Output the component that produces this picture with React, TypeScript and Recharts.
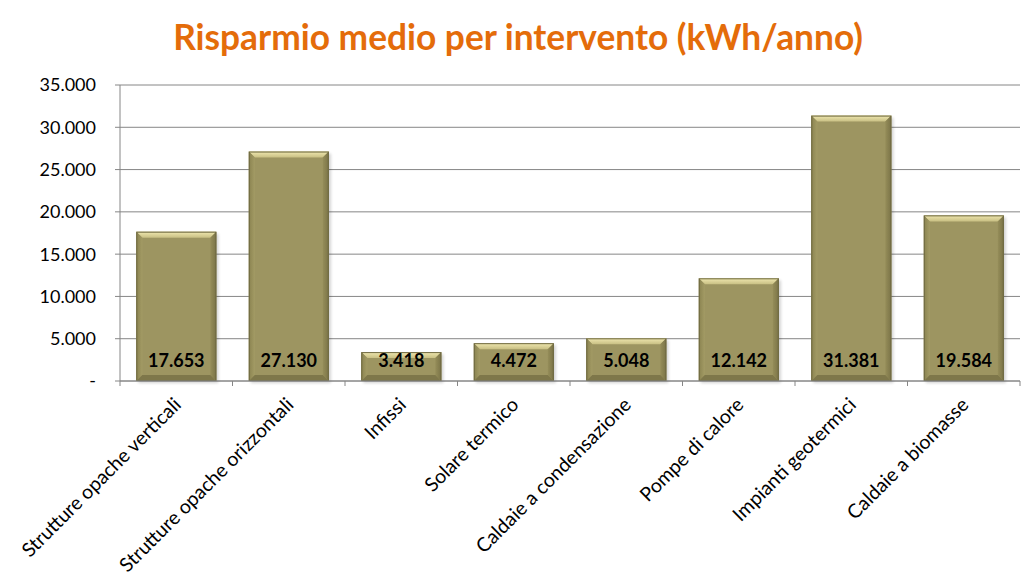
import React from "react";
import { BarChart, Bar, XAxis, YAxis, CartesianGrid, LabelList } from "recharts";

const categories = [
  "Strutture opache verticali",
  "Strutture opache orizzontali",
  "Infissi",
  "Solare termico",
  "Caldaie a condensazione",
  "Pompe di calore",
  "Impianti geotermici",
  "Caldaie a biomasse",
];
const values = [17653, 27130, 3418, 4472, 5048, 12142, 31381, 19584];
const yTicks = [0, 5000, 10000, 15000, 20000, 25000, 30000, 35000];
const title = "Risparmio medio per intervento (kWh/anno)";

const data = categories.map((name, i) => ({ name, value: values[i] }));

const W = 1036;
const H = 585;
const X_H = 204;
const M = { top: 85, right: 16, bottom: 0, left: 0 };
const Y_W = 120;
const band = (W - M.left - M.right - Y_W) / categories.length;

const fmt = (v: number) =>
  v === 0 ? "-" : v.toLocaleString("it-IT").replace(/,/g, ".");

const FONT = "Lato, 'Open Sans', sans-serif";

const BevelBar = (props: any) => {
  const { x, y, width: w, height: h } = props;
  if (!h || h <= 0) return null;
  const b = Math.min(6, h / 2);
  return (
    <g>
      <rect x={x + 2} y={y + 2} width={w} height={h} fill="#000" opacity={0.18} filter="url(#blur)" />
      <rect x={x} y={y} width={w} height={h} fill="#9D9561" />
      <polygon points={`${x},${y} ${x + w},${y} ${x + w - b},${y + b} ${x + b},${y + b}`} fill="url(#topG)" />
      <polygon points={`${x},${y} ${x + b},${y + b} ${x + b},${y + h - b} ${x},${y + h}`} fill="url(#leftG)" />
      <polygon points={`${x + w},${y} ${x + w - b},${y + b} ${x + w - b},${y + h - b} ${x + w},${y + h}`} fill="url(#rightG)" />
      <polygon points={`${x},${y + h} ${x + b},${y + h - b} ${x + w - b},${y + h - b} ${x + w},${y + h}`} fill="#7E774A" />
      <rect x={x + 0.5} y={y + 0.5} width={w - 1} height={h - 1} fill="none" stroke="#6F6A42" strokeWidth={1} />
    </g>
  );
};

const XTick = (props: any) => {
  const { x, y, payload, index } = props;
  const left = x - band / 2;
  return (
    <g>
      <line x1={left} y1={y - 8} x2={left} y2={y - 3} stroke="#868686" />
      {index === categories.length - 1 && (
        <line x1={x + band / 2} y1={y - 8} x2={x + band / 2} y2={y - 3} stroke="#868686" />
      )}
      <text
        x={x + 6}
        y={y + 17}
        transform={`rotate(-45, ${x + 6}, ${y + 17})`}
        textAnchor="end"
        fontSize={19.5}
        fontFamily={FONT}
        fill="#000"
      >
        {payload.value}
      </text>
    </g>
  );
};

const ValueLabel = (props: any) => {
  const { x, y, width, height, value } = props;
  return (
    <text
      x={x + width / 2}
      y={y + height - 14}
      textAnchor="middle"
      fontSize={18}
      fontWeight={700}
      fontFamily={FONT}
      fill="#000"
    >
      {fmt(value)}
    </text>
  );
};

export default function App() {
  return (
    <div style={{ position: "absolute", left: 0, top: 0, width: W, height: H, background: "#fff" }}>
      <div
        style={{
          position: "absolute",
          left: 0,
          top: 15,
          width: W,
          textAlign: "center",
          fontFamily: FONT,
          fontWeight: 700,
          fontSize: 35.3,
          color: "#E46C0A",
          lineHeight: "44px",
        }}
      >
        {title}
      </div>
      <BarChart width={W} height={H} data={data} margin={M} barCategoryGap="14.5%">
        <defs>
          <linearGradient id="topG" x1="0" y1="0" x2="0" y2="1">
            <stop offset="0" stopColor="#F0E8B0" />
            <stop offset="1" stopColor="#C8BF83" />
          </linearGradient>
          <linearGradient id="leftG" x1="0" y1="0" x2="1" y2="0">
            <stop offset="0" stopColor="#8A8350" />
            <stop offset="1" stopColor="#A39B65" />
          </linearGradient>
          <linearGradient id="rightG" x1="0" y1="0" x2="1" y2="0">
            <stop offset="0" stopColor="#958D59" />
            <stop offset="1" stopColor="#7A7347" />
          </linearGradient>
          <filter id="blur" x="-10%" y="-10%" width="120%" height="120%">
            <feGaussianBlur stdDeviation="1.5" />
          </filter>
        </defs>
        <CartesianGrid horizontal vertical={false} stroke="#868686" strokeWidth={1} />
        <XAxis
          dataKey="name"
          interval={0}
          tickLine={false}
          axisLine={{ stroke: "#868686" }}
          tick={<XTick />}
          height={X_H}
        />
        <YAxis
          width={Y_W}
          domain={[0, 35000]}
          ticks={yTicks}
          interval={0}
          tickFormatter={fmt}
          axisLine={{ stroke: "#868686" }}
          tickLine={{ stroke: "#868686" }}
          tickSize={5}
          tickMargin={19}
          tick={{ fontSize: 18, fontFamily: FONT, fill: "#000" }}
        />
        <Bar dataKey="value" shape={<BevelBar />} isAnimationActive={false}>
          <LabelList dataKey="value" content={<ValueLabel />} />
        </Bar>
      </BarChart>
    </div>
  );
}
